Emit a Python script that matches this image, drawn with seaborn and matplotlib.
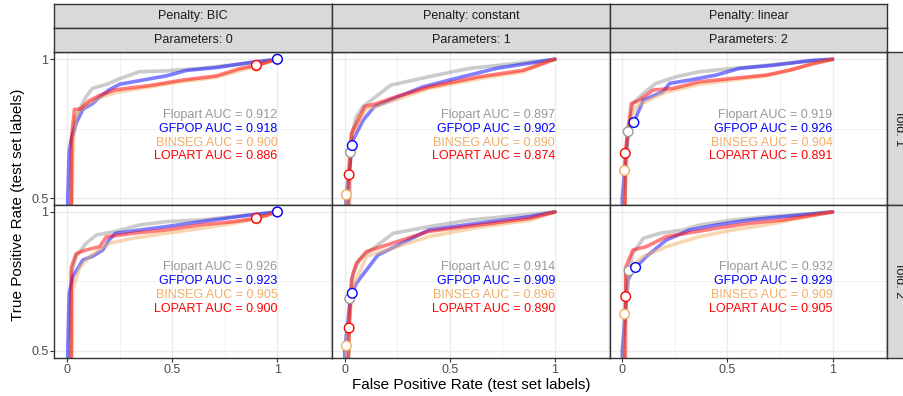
import matplotlib
matplotlib.use("Agg")
import matplotlib.pyplot as plt
import numpy as np
import pandas as pd
import seaborn as sns

# ---- data ----
METHODS = ["Flopart", "GFPOP", "BINSEG", "LOPART"]
COLORS = ["#999999", "#0000FF", "#F2AF66", "#FF0000"]
PENALTIES = ["BIC", "constant", "linear"]
PARAMETERS = [0, 1, 2]
FOLDS = [1, 2]

# ROC curves, (FPR, TPR) per method, fold 1
bic1_flopart = [(0, 0), (0.02, 0.5), (0.025, 0.73), (0.04, 0.79), (0.06, 0.82), (0.09, 0.865), (0.12, 0.895),
                (0.19, 0.91), (0.25, 0.93), (0.345, 0.955), (0.47, 0.958), (0.63, 0.967), (0.79, 0.98), (0.92, 0.99), (1, 1)]
bic1_gfpop = [(0, 0), (0.003, 0.5), (0.01, 0.67), (0.02, 0.71), (0.043, 0.77), (0.075, 0.82), (0.12, 0.84), (0.15, 0.86),
              (0.2, 0.89), (0.25, 0.91), (0.36, 0.925), (0.47, 0.94), (0.57, 0.96), (0.71, 0.97), (0.885, 0.99), (1, 1)]
bic1_binseg = [(0, 0), (0.025, 0.5), (0.03, 0.70), (0.04, 0.79), (0.06, 0.815), (0.1, 0.84), (0.15, 0.86), (0.23, 0.88),
               (0.39, 0.90), (0.55, 0.92), (0.71, 0.935), (0.82, 0.96), (0.9, 0.975), (1, 1)]
bic1_lopart = [(0, 0), (0.02, 0.5), (0.02, 0.71), (0.035, 0.82), (0.06, 0.82), (0.105, 0.85), (0.155, 0.87), (0.23, 0.89),
               (0.39, 0.905), (0.55, 0.925), (0.71, 0.94), (0.82, 0.966), (0.9, 0.978), (1, 1)]

const1_flopart = [(0, 0), (0.024, 0.5), (0.027, 0.664), (0.035, 0.733), (0.055, 0.793), (0.087, 0.83), (0.22, 0.907),
                  (0.40, 0.937), (0.593, 0.967), (1, 1)]
const1_gfpop = [(0, 0), (0.005, 0.5), (0.036, 0.689), (0.04, 0.71), (0.087, 0.78), (0.142, 0.83), (0.37, 0.90),
                (0.56, 0.937), (0.72, 0.967), (1, 1)]
const1_binseg = [(0, 0), (0.008, 0.512), (0.03, 0.72), (0.1, 0.82), (0.15, 0.83), (0.40, 0.895), (0.64, 0.93),
                 (0.847, 0.955), (1, 1)]
const1_lopart = [(0, 0), (0.021, 0.584), (0.032, 0.733), (0.095, 0.83), (0.15, 0.84), (0.245, 0.865), (0.40, 0.90),
                 (0.64, 0.937), (0.847, 0.96), (1, 1)]

lin1_flopart = [(0, 0), (0.011, 0.5), (0.028, 0.739), (0.05, 0.84), (0.1, 0.877), (0.16, 0.913), (0.256, 0.937),
                (0.367, 0.955), (0.525, 0.967), (0.684, 0.978), (0.84, 0.99), (1, 1)]
lin1_gfpop = [(0, 0), (0.0, 0.5), (0.027, 0.74), (0.055, 0.772), (0.07, 0.80), (0.1, 0.853), (0.193, 0.883),
              (0.225, 0.913), (0.32, 0.925), (0.446, 0.943), (0.557, 0.967), (0.715, 0.978), (0.905, 0.996), (1, 1)]
lin1_binseg = [(0, 0), (0.011, 0.599), (0.03, 0.77), (0.065, 0.83), (0.2, 0.88), (0.367, 0.91), (0.684, 0.94),
               (0.84, 0.97), (1, 1)]
lin1_lopart = [(0, 0), (0.014, 0.5), (0.014, 0.661), (0.043, 0.84), (0.082, 0.853), (0.146, 0.889), (0.24, 0.895),
               (0.367, 0.919), (0.525, 0.931), (0.684, 0.943), (0.794, 0.96), (0.905, 0.984), (1, 1)]

# fold 2
bic2_flopart = [(0, 0), (0.015, 0.5), (0.02, 0.78), (0.043, 0.84), (0.09, 0.887), (0.14, 0.917), (0.23, 0.93),
                (0.345, 0.953), (0.47, 0.965), (0.63, 0.971), (0.79, 0.983), (1, 1)]
bic2_gfpop = [(0, 0), (0.003, 0.5), (0.01, 0.707), (0.027, 0.767), (0.075, 0.827), (0.12, 0.84), (0.17, 0.863),
              (0.2, 0.9), (0.23, 0.923), (0.345, 0.935), (0.47, 0.947), (0.58, 0.959), (0.695, 0.971), (0.87, 0.989), (1, 1)]
bic2_binseg = [(0, 0), (0.025, 0.5), (0.027, 0.72), (0.06, 0.80), (0.107, 0.84), (0.2, 0.887), (0.31, 0.905),
               (0.47, 0.923), (0.63, 0.94), (0.79, 0.959), (0.9, 0.975), (1, 1)]
bic2_lopart = [(0, 0), (0.02, 0.5), (0.02, 0.80), (0.043, 0.85), (0.09, 0.863), (0.155, 0.875), (0.186, 0.91),
               (0.31, 0.923), (0.47, 0.935), (0.63, 0.953), (0.79, 0.965), (0.9, 0.977), (1, 1)]

const2_flopart = [(0, 0), (0.02, 0.5), (0.024, 0.6875), (0.04, 0.78), (0.07, 0.827), (0.103, 0.85), (0.23, 0.923),
                  (0.40, 0.947), (0.593, 0.971), (1, 1)]
const2_gfpop = [(0, 0), (0.0, 0.5), (0.03, 0.707), (0.036, 0.707), (0.055, 0.743), (0.158, 0.845), (0.40, 0.935),
                (0.64, 0.96), (0.88, 0.983), (1, 1)]
const2_binseg = [(0, 0), (0.008, 0.518), (0.04, 0.73), (0.103, 0.84), (0.40, 0.911), (0.64, 0.945), (0.88, 0.97), (1, 1)]
const2_lopart = [(0, 0), (0.021, 0.582), (0.032, 0.755), (0.055, 0.815), (0.103, 0.857), (0.40, 0.93), (0.64, 0.953),
                 (0.88, 0.977), (1, 1)]

lin2_flopart = [(0, 0), (0.006, 0.5), (0.019, 0.788), (0.032, 0.79), (0.05, 0.851), (0.1, 0.905), (0.177, 0.923),
                (0.288, 0.935), (0.367, 0.953), (0.525, 0.971), (0.684, 0.983), (0.84, 0.99), (1, 1)]
lin2_gfpop = [(0, 0), (0.0, 0.5), (0.027, 0.755), (0.05, 0.79), (0.063, 0.80), (0.114, 0.839), (0.209, 0.899),
              (0.32, 0.935), (0.446, 0.953), (0.604, 0.971), (0.763, 0.983), (0.92, 0.994), (1, 1)]
lin2_binseg = [(0, 0), (0.011, 0.632), (0.035, 0.80), (0.098, 0.839), (0.209, 0.875), (0.367, 0.911), (0.525, 0.935),
               (0.684, 0.953), (0.84, 0.977), (1, 1)]
lin2_lopart = [(0, 0), (0.015, 0.5), (0.016, 0.695), (0.016, 0.80), (0.05, 0.863), (0.114, 0.875), (0.209, 0.911),
               (0.304, 0.923), (0.446, 0.941), (0.604, 0.959), (0.763, 0.971), (0.92, 0.99), (1, 1)]

# AUC per method (Flopart, GFPOP, BINSEG, LOPART)
auc_bic1 = [0.912, 0.918, 0.900, 0.886]
auc_const1 = [0.897, 0.902, 0.890, 0.874]
auc_lin1 = [0.919, 0.926, 0.904, 0.891]
auc_bic2 = [0.926, 0.923, 0.905, 0.900]
auc_const2 = [0.914, 0.909, 0.896, 0.890]
auc_lin2 = [0.932, 0.929, 0.909, 0.905]

# default-threshold points (FPR, TPR) per method
pts_bic1 = [(1, 1), (1, 1), (0.9, 0.975), (0.9, 0.978)]
pts_const1 = [(0.027, 0.664), (0.036, 0.689), (0.008, 0.512), (0.021, 0.584)]
pts_lin1 = [(0.028, 0.739), (0.055, 0.772), (0.011, 0.599), (0.014, 0.661)]
pts_bic2 = [(1, 1), (1, 1), (0.9, 0.975), (0.9, 0.977)]
pts_const2 = [(0.024, 0.6875), (0.036, 0.707), (0.008, 0.518), (0.021, 0.582)]
pts_lin2 = [(0.032, 0.788), (0.063, 0.80), (0.011, 0.632), (0.016, 0.695)]

AUC_Y = [0.80, 0.75, 0.70, 0.65]

panels = {
    (1, "BIC"): ([bic1_flopart, bic1_gfpop, bic1_binseg, bic1_lopart], auc_bic1, pts_bic1),
    (1, "constant"): ([const1_flopart, const1_gfpop, const1_binseg, const1_lopart], auc_const1, pts_const1),
    (1, "linear"): ([lin1_flopart, lin1_gfpop, lin1_binseg, lin1_lopart], auc_lin1, pts_lin1),
    (2, "BIC"): ([bic2_flopart, bic2_gfpop, bic2_binseg, bic2_lopart], auc_bic2, pts_bic2),
    (2, "constant"): ([const2_flopart, const2_gfpop, const2_binseg, const2_lopart], auc_const2, pts_const2),
    (2, "linear"): ([lin2_flopart, lin2_gfpop, lin2_binseg, lin2_lopart], auc_lin2, pts_lin2),
}

# ---- layout (pixel boxes measured on a 904x396 canvas) ----
W, H = 904, 396
COL_X = [54.5, 332.1, 609.7, 887.3]
ROW_Y = [52.3, 205.0, 357.7]
STRIP1 = (4.0, 28.2)
STRIP2 = (28.2, 52.3)
RSTRIP = (887.3, 911.5)
DARK = "#333333"


def box(x0, y0, x1, y1):
    return [x0 / W, 1 - y1 / H, (x1 - x0) / W, (y1 - y0) / H]


def add_strip(fig, x0, y0, x1, y1, label, rotation=0):
    ax = fig.add_axes(box(x0, y0, x1, y1))
    ax.set_facecolor("#D9D9D9")
    ax.set_xticks([])
    ax.set_yticks([])
    for s in ax.spines.values():
        s.set_color(DARK)
        s.set_linewidth(1.0)
    ax.text(0.5, 0.5, label, transform=ax.transAxes, ha="center", va="center",
            fontsize=9, color="#1A1A1A", rotation=rotation)
    return ax


sns.set_theme(style="white")
plt.rcParams["font.family"] = ["Liberation Sans", "DejaVu Sans"]

fig = plt.figure(figsize=(W / 100, H / 100), dpi=100)

palette = dict(zip(METHODS, COLORS))

for r, fold in enumerate(FOLDS):
    for c, pen in enumerate(PENALTIES):
        curves, aucs, pts = panels[(fold, pen)]
        ax = fig.add_axes(box(COL_X[c], ROW_Y[r], COL_X[c + 1], ROW_Y[r + 1]))

        rows = []
        for m, curve in zip(METHODS, curves):
            for i, (fpr, tpr) in enumerate(curve):
                rows.append({"method": m, "i": i, "FPR": fpr, "TPR": tpr})
        df = pd.DataFrame(rows)
        sns.lineplot(data=df, x="FPR", y="TPR", hue="method", hue_order=METHODS, palette=palette,
                     sort=False, estimator=None, alpha=0.5, linewidth=2.6, legend=False, ax=ax)

        dpt = pd.DataFrame({"method": METHODS, "FPR": [p[0] for p in pts], "TPR": [p[1] for p in pts]})
        sns.scatterplot(data=dpt, x="FPR", y="TPR", hue="method", hue_order=METHODS, palette=palette,
                        s=48, linewidth=1.0, legend=False, ax=ax, zorder=5)
        coll = ax.collections[-1]
        coll.set_edgecolors(coll.get_facecolors())
        coll.set_facecolor("white")

        for m, col, auc, y in zip(METHODS, COLORS, aucs, AUC_Y):
            ax.text(1, y, f"{m} AUC = {auc:.3f}", ha="right", va="center", color=col, fontsize=9)

        ax.set_xlim(-0.06, 1.26)
        ax.set_ylim(0.475, 1.025)
        ax.set_xticks([0, 0.5, 1])
        ax.set_xticks([0.25, 0.75, 1.25], minor=True)
        ax.set_yticks([0.5, 1])
        ax.set_yticks([0.75], minor=True)
        ax.set_xticklabels(["0", "0.5", "1"])
        ax.set_yticklabels(["0.5", "1"])
        ax.grid(True, which="major", color="#EBEBEB", linewidth=1.0)
        ax.grid(True, which="minor", color="#EBEBEB", linewidth=0.5)
        ax.set_axisbelow(True)
        ax.set_xlabel("")
        ax.set_ylabel("")
        for s in ax.spines.values():
            s.set_color(DARK)
            s.set_linewidth(1.0)
            s.set_zorder(10)
        ax.tick_params(which="minor", length=0)
        ax.tick_params(axis="x", which="major", length=2.8, width=0.8, color=DARK,
                       labelsize=9, labelcolor="#4D4D4D", pad=2, bottom=(r == 1), labelbottom=(r == 1))
        ax.tick_params(axis="y", which="major", length=2.8, width=0.8, color=DARK,
                       labelsize=9, labelcolor="#4D4D4D", pad=1.5, left=(c == 0), labelleft=(c == 0))

# facet strips
for c, (pen, par) in enumerate(zip(PENALTIES, PARAMETERS)):
    add_strip(fig, COL_X[c], STRIP1[0], COL_X[c + 1], STRIP1[1], f"Penalty: {pen}")
    add_strip(fig, COL_X[c], STRIP2[0], COL_X[c + 1], STRIP2[1], f"Parameters: {par}")
for r, fold in enumerate(FOLDS):
    add_strip(fig, RSTRIP[0], ROW_Y[r], RSTRIP[1], ROW_Y[r + 1], f"fold: {fold}", rotation=-90)

fig.text((COL_X[0] + COL_X[3]) / 2 / W, 1 - 385 / H, "False Positive Rate (test set labels)",
         ha="center", va="center", fontsize=11, color="black")
fig.text(18 / W, 1 - (ROW_Y[0] + ROW_Y[2]) / 2 / H, "True Positive Rate (test set labels)",
         ha="center", va="center", rotation=90, fontsize=11, color="black")

fig.savefig("out.png", dpi=100)
plt.close(fig)
